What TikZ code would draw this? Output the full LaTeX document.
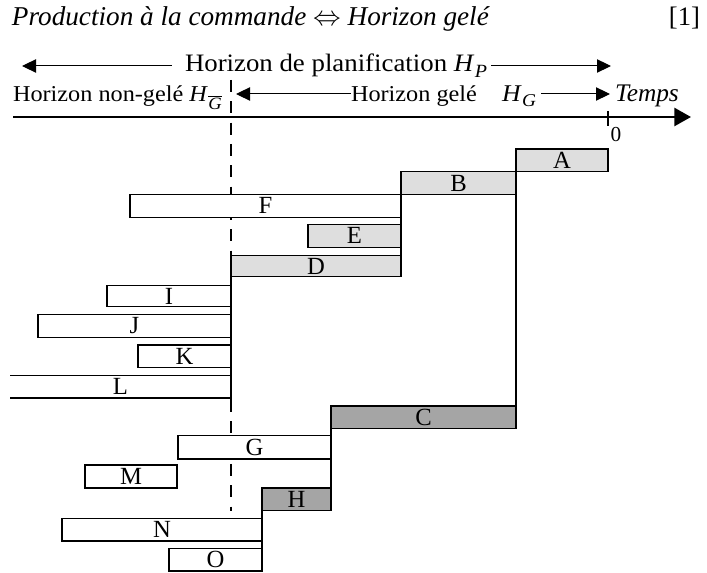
\documentclass[tikz,border=0pt]{standalone}
\usepackage{fontspec}
\setmainfont{Liberation Serif}[FakeStretch=1.07]
\newfontfamily\labelfont{Liberation Serif}
\usetikzlibrary{arrows.meta,calc}
\definecolor{lightfill}{HTML}{DEDEDE}
\definecolor{darkfill}{HTML}{A5A5A5}
\newcommand\Hsub[2]{\textit{H}\kern0.3pt\raisebox{-0.45ex}{\fontsize{#2}{#2}\selectfont\textit{#1}}}
\newcommand\Hbar{\textit{H}\kern0.3pt\raisebox{-0.7ex}{\fontsize{13}{13}\selectfont$\overline{\hbox{\textit{G}}}$}}
\newcommand\taskbox[7]{\node[box,fill=#6,anchor=north west,minimum width={(#4-#2)*0.75pt},minimum height={(#5-#3)*0.75pt}] (#1) at (#2,#3) {#7};}
\begin{document}
\begin{tikzpicture}[x=0.75pt,y=-0.75pt,
  box/.style={draw,line width=1pt,inner sep=0pt,outer sep=0pt,font=\labelfont\fontsize{18.5}{20}\selectfont},
  lbl/.style={inner sep=0pt,outer sep=0pt,font=\fontsize{17}{20}\selectfont},
  harr/.style={line width=0.75pt,-{Triangle[length=10.5pt,width=10pt]}},
  axisline/.style={line width=2pt,-{Triangle[length=12.5pt,width=13.5pt]}},
  edge/.style={line width=1pt},
  dashline/.style={line width=1pt,dash pattern=on 9pt off 7pt}]
\useasboundingbox (0,0) rectangle (707,573);

% header texts
\node[lbl,anchor=base west,font=\labelfont\fontsize{20.4}{22}\selectfont\itshape] (title) at (12,25.5) {Production à la commande $\Leftrightarrow$ Horizon gelé};
\node[lbl,anchor=base east,font=\labelfont\fontsize{20}{22}\selectfont] (ref) at (700,25.5) {[1]};
\node[lbl,anchor=base west,font=\fontsize{18.8}{21}\selectfont] (hp) at (185,72) {Horizon de planification \Hsub{P}{14}};
\node[lbl,anchor=base west] (ng) at (13,102) {Horizon non-gelé \Hbar};
\node[lbl,anchor=base west] (hg) at (351,102) {Horizon gelé};
\node[lbl,anchor=base west,font=\fontsize{18}{20}\selectfont] (HG) at (502,102) {\Hsub{G}{13.5}};
\node[lbl,anchor=base west,font=\labelfont\fontsize{19}{20}\selectfont\itshape] (temps) at (615,102) {Temps};
\node[lbl,anchor=base,font=\labelfont\fontsize{16}{18}\selectfont] (zero) at (616,142) {0};

% header arrows
\coordinate (hpL) at (22,66);
\coordinate (hpR) at (611,66);
\coordinate (hgL) at (236,94);
\coordinate (hgR) at (610,94);
\draw[harr,shorten <=10pt] (hpL -| hp.west) -- (hpL);
\draw[harr,shorten <=3pt] (hpR -| hp.east) -- (hpR);
\draw[harr] (hgL -| hg.west) -- (hgL);
\draw[harr,shorten <=4pt] (hgR -| HG.east) -- (hgR);

% dashed frontier
\coordinate (dtop) at (231,80);
\coordinate (dbot) at (231,511);
\draw[dashline] (dtop) -- (dbot);

% time axis
\coordinate (ax0) at (13,117);
\coordinate (ax1) at (691,117);
\draw[axisline] (ax0) -- (ax1);
\coordinate (tk0) at (608,111);
\coordinate (tk1) at (608,126);
\draw[edge] (tk0) -- (tk1);

% tasks
\taskbox{A}{516}{149}{608}{171.7}{lightfill}{A}
\taskbox{B}{401}{171.7}{516}{194.3}{lightfill}{B}
\taskbox{F}{130}{194.3}{401}{217.3}{white}{F}
\taskbox{E}{308}{224.3}{401}{247.3}{lightfill}{E}
\taskbox{D}{231}{255.3}{401}{276.7}{lightfill}{D}
\taskbox{I}{107}{285.7}{231}{306.7}{white}{I}
\taskbox{J}{38}{314.3}{231}{337.3}{white}{J}
\taskbox{K}{138}{345}{231}{367.7}{white}{K}
\node[box,draw=none,anchor=north west,minimum width={221*0.75pt},minimum height={22.7*0.75pt}] (L) at (10,375.3) {L};
\draw[edge] (L.north west) -- (L.north east) -- (L.south east) -- (L.south west);
\taskbox{C}{331}{406}{516}{428.3}{darkfill}{C}
\taskbox{G}{178}{435.7}{331}{459}{white}{G}
\taskbox{M}{85}{465}{177}{488}{white}{M}
\taskbox{H}{262}{488}{331}{510.7}{darkfill}{H}
\taskbox{N}{62}{518.3}{262}{541}{white}{N}
\taskbox{O}{169}{548.3}{262}{571}{white}{O}

% precedence verticals
\draw[edge] (A.south west) -- (C.north east);
\draw[edge] (B.south west) -- (D.south east);
\draw[edge] (D.north west) -- ($(L.south east)+(0,6)$);
\draw[edge] (C.south west) -- (H.south east);
\draw[edge] (H.south west) -- (O.south east);
\end{tikzpicture}
\end{document}
